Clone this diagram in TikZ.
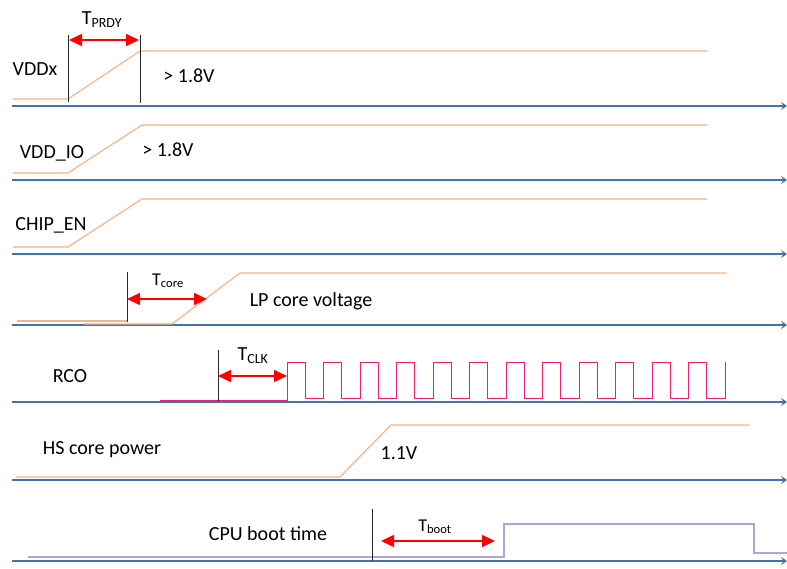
\documentclass[tikz,border=0pt]{standalone}
\usepackage{fontspec}
\setmainfont{Carlito}
\usetikzlibrary{arrows.meta}
\definecolor{axisblue}{RGB}{68,114,170}
\definecolor{sigorange}{RGB}{244,180,136}
\definecolor{sigpink}{RGB}{236,30,110}
\definecolor{siglav}{RGB}{176,164,214}
\begin{document}
\begin{tikzpicture}[x=1pt,y=-1pt,
  axisline/.style={draw=axisblue,line width=1.4pt,-{Stealth[length=6pt,width=8pt,inset=2.5pt]}},
  orangesig/.style={draw=sigorange,line width=1.2pt,line join=miter},
  pinksig/.style={draw=sigpink,line width=0.9pt},
  lavsig/.style={draw=siglav,line width=1.4pt},
  marker/.style={draw=black!85,line width=0.7pt},
  tarrow/.style={draw=red,line width=1.5pt,{Triangle[length=13pt,width=12pt]}-{Triangle[length=13pt,width=12pt]}},
  lbl/.style={anchor=base,inner sep=0pt,font=\fontsize{20}{24}\selectfont},
  slbl/.style={anchor=base,inner sep=0pt,font=\fontsize{18}{22}\selectfont}
]
\useasboundingbox (0,0) rectangle (787,568);
% axes
\foreach \n/\yy in {a1/106,a2/180,a3/254,a4/325,a5/402,a6/480,a7/561}{
  \coordinate (\n s) at (12,\yy);
  \coordinate (\n e) at (787,\yy);
  \draw[axisline] (\n s) -- (\n e);
}
% VDDx
\draw[orangesig] (13,99) -- (68,99) -- (140,51) -- (707,51);
\coordinate (p1t) at (68,35); \coordinate (p1b) at (68,102);
\coordinate (p2t) at (140,35); \coordinate (p2b) at (140,103);
\draw[marker] (p1t) -- (p1b);
\draw[marker] (p2t) -- (p2b);
\coordinate (pa) at (69,40); \coordinate (pb) at (139,40);
\draw[tarrow] (pa) -- (pb);
\node[lbl] (tprdy) at (102,24) {T\textsubscript{PRDY}};
\node[lbl] (vddx) at (35,75) {VDDx};
\node[lbl] (v18a) at (189,82) {> 1.8V};
% VDD_IO
\draw[orangesig] (13,173) -- (68,173) -- (142,125) -- (707,125);
\node[lbl] (vddio) at (52,158) {VDD\_IO};
\node[lbl] (v18b) at (168,156) {> 1.8V};
% CHIP_EN
\draw[orangesig] (13,247) -- (68,247) -- (142,199) -- (707,199);
\node[lbl] (chipen) at (51,230) {CHIP\_EN};
% LP core
\draw[orangesig] (17,321) -- (127,321);
\draw[orangesig] (84,324) -- (172,324) -- (240,273) -- (727,273);
\coordinate (c1t) at (127,272); \coordinate (c1b) at (127,322);
\draw[marker] (c1t) -- (c1b);
\coordinate (ca) at (127,299); \coordinate (cb) at (207,299);
\draw[tarrow] (ca) -- (cb);
\node[slbl] (tcore) at (168,285) {T\textsubscript{core}};
\node[lbl] (lpcore) at (311,306) {LP core voltage};
% RCO
\draw[pinksig,line width=1.2pt] (160,400.6) -- (287,400.6);
\draw[pinksig] (287,401) -- (287,362)
  \foreach \i in {0,...,11}{ -- ++(18.25,0) -- ++(0,36) -- ++(18.25,0) -- ++(0,-36) };
\coordinate (k1t) at (218,350); \coordinate (k1b) at (218,401);
\draw[marker] (k1t) -- (k1b);
\coordinate (ka) at (218,376); \coordinate (kb) at (287,376);
\draw[tarrow] (ka) -- (kb);
\node[lbl] (tclk) at (253,360) {T\textsubscript{CLK}};
\node[lbl] (rco) at (70,382) {RCO};
% HS core power
\draw[orangesig] (16,477) -- (340,477) -- (391,425) -- (749,425);
\node[lbl] (hs) at (102,454) {HS core power};
\node[lbl] (v11) at (399,459) {1.1V};
% CPU boot
\draw[lavsig] (28,557) -- (504,557) -- (504,524) -- (754,524) -- (754,553) -- (787,553);
\coordinate (b1t) at (372,509); \coordinate (b1b) at (372,561);
\draw[marker] (b1t) -- (b1b);
\coordinate (ba) at (381,541); \coordinate (bb) at (495,541);
\draw[tarrow] (ba) -- (bb);
\node[slbl] (tboot) at (435,531) {T\textsubscript{boot}};
\node[lbl] (cpu) at (268,540) {CPU boot time};
\end{tikzpicture}
\end{document}
